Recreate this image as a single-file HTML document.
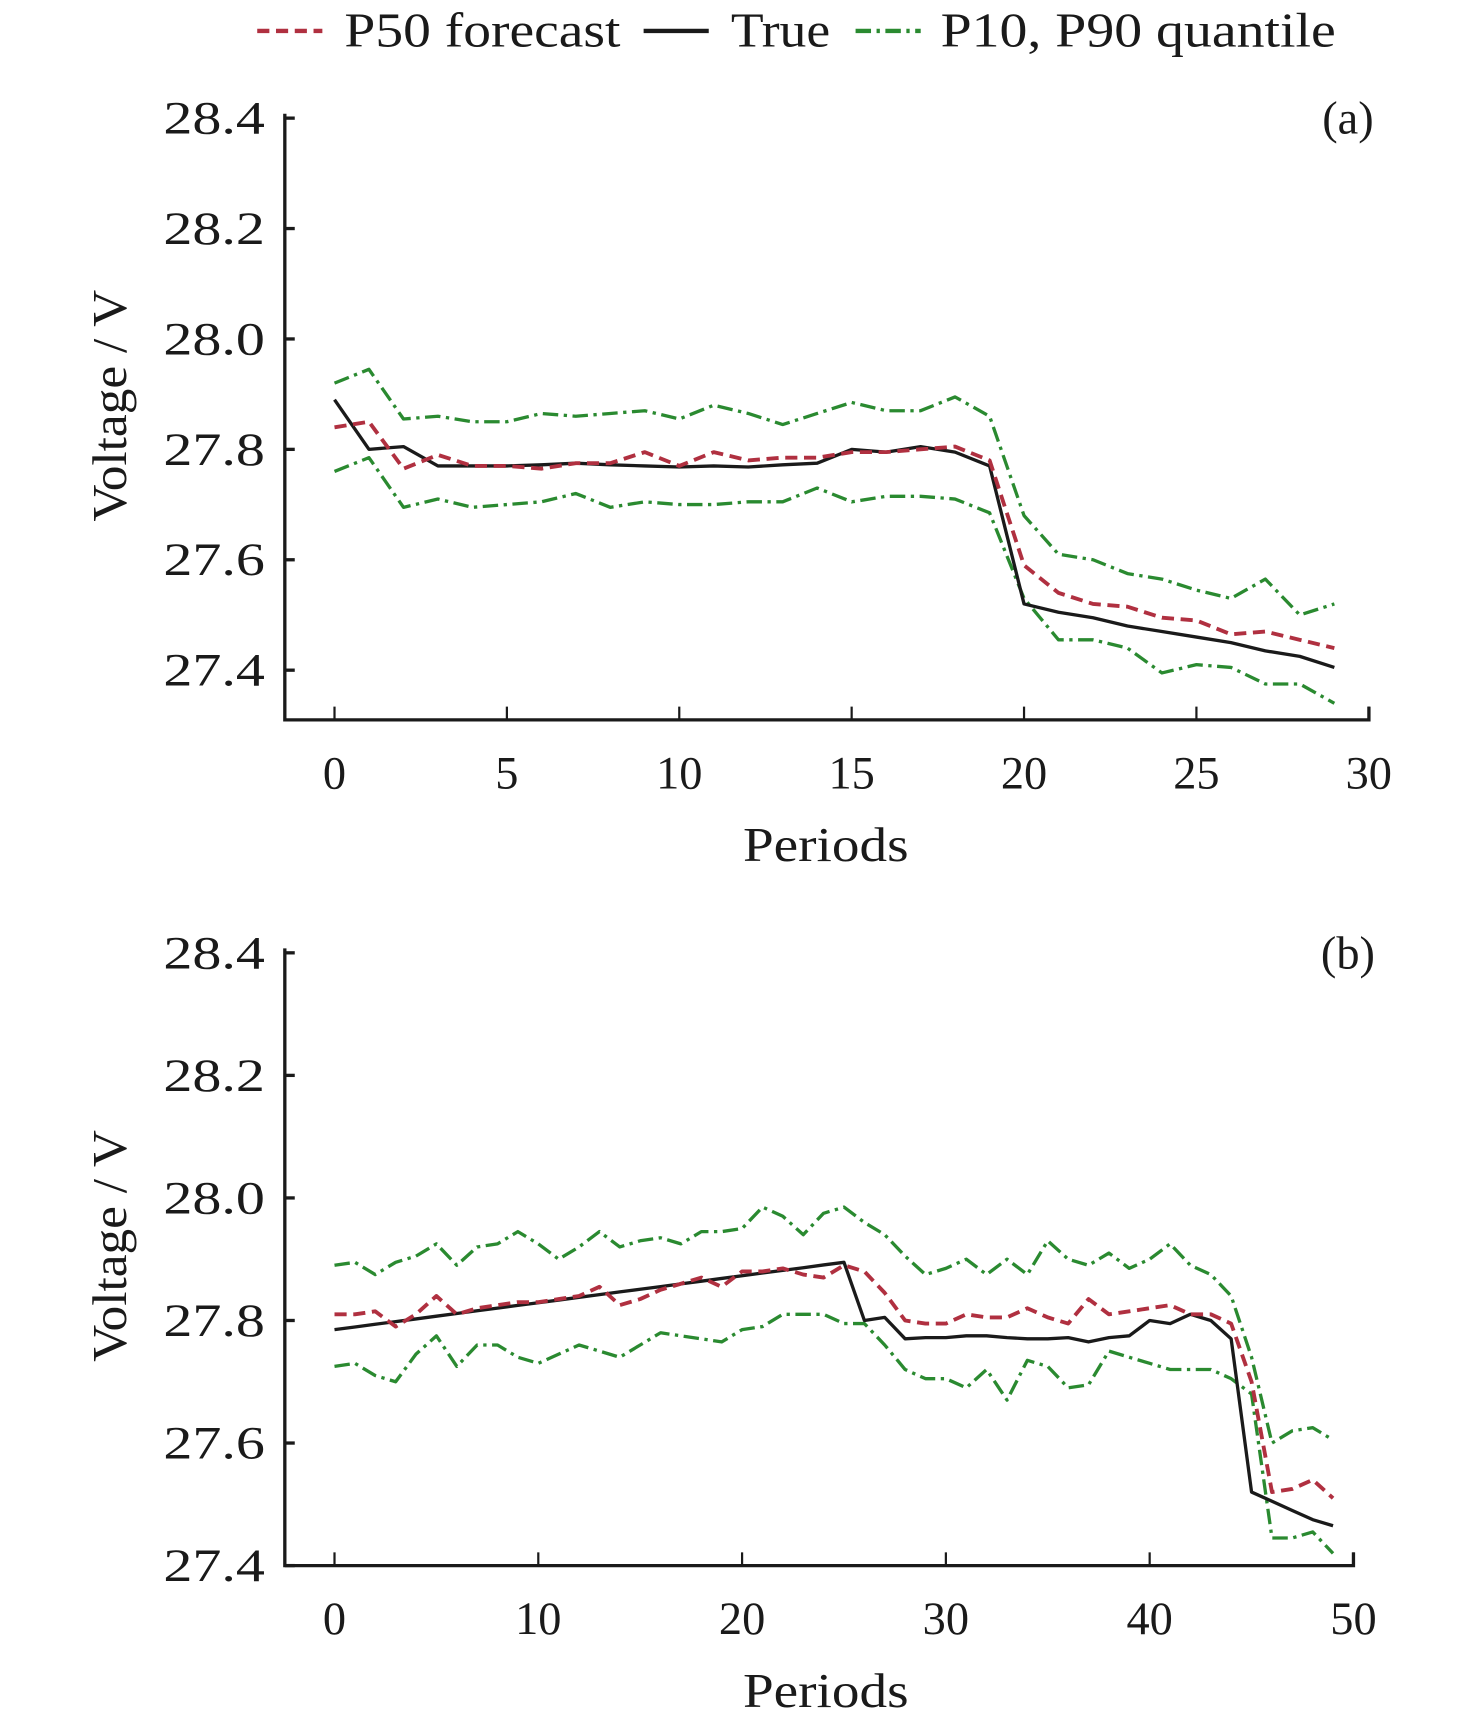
<!DOCTYPE html>
<html><head><meta charset="utf-8"><style>
html,body{margin:0;padding:0;background:#fff;}
svg{display:block;}
text{font-family:"Liberation Serif",serif;fill:#1a1a1a;}
</style></head><body>
<svg id="s" width="1476" height="1729" viewBox="0 0 1337 1566" preserveAspectRatio="none" xmlns="http://www.w3.org/2000/svg">
<g font-size="44">
<line x1="233" y1="28" x2="292" y2="28" stroke="#b03040" stroke-width="4" stroke-dasharray="11,6"/>
<text x="312" y="42" textLength="250" lengthAdjust="spacingAndGlyphs">P50 forecast</text>
<line x1="583" y1="28" x2="642" y2="28" stroke="#1a1a1a" stroke-width="4"/>
<text x="662" y="42" textLength="90" lengthAdjust="spacingAndGlyphs">True</text>
<line x1="775" y1="28" x2="834" y2="28" stroke="#2a8a30" stroke-width="4" stroke-dasharray="14,5,3,5"/>
<text x="852" y="42" textLength="358" lengthAdjust="spacingAndGlyphs">P10, P90 quantile</text>
</g>
<g id="plots"></g>
</svg>
<script>
var NS="http://www.w3.org/2000/svg";
var g=document.getElementById("plots");
function el(t,a,txt){var e=document.createElementNS(NS,t);for(var k in a)e.setAttribute(k,a[k]);if(txt!==undefined)e.textContent=txt;g.appendChild(e);return e;}
function panel(o){
 var X=function(i){return o.x0+i*o.dx;}, Y=function(v){return o.ytop+(28.4-v)*o.dy;};
 el("path",{d:"M"+o.ax+" "+(o.ytop-4)+"V"+o.ybot+"H"+o.xend+"V"+(o.ybot-12),fill:"none",stroke:"#1a1a1a","stroke-width":3});
 [28.4,28.2,28.0,27.8,27.6,27.4].forEach(function(v){var y=Y(v);el("line",{x1:o.ax,y1:y,x2:o.ax+9,y2:y,stroke:"#1a1a1a","stroke-width":3});
  el("text",{x:o.ax-18,y:y+14,"font-size":42,"text-anchor":"end",textLength:92,lengthAdjust:"spacingAndGlyphs"},v.toFixed(1));});
 o.xt.forEach(function(t){var x=X(t);el("line",{x1:x,y1:o.ybot,x2:x,y2:o.ybot-12,stroke:"#1a1a1a","stroke-width":2});
  el("text",{x:x,y:o.ybot+62,"font-size":42,"text-anchor":"middle"},String(t));});
 el("text",{x:748,y:o.ybot+128,"font-size":44,"text-anchor":"middle",textLength:150,lengthAdjust:"spacingAndGlyphs"},"Periods");
 var cy=(o.ytop+o.ybot)/2;
 el("text",{x:0,y:0,"font-size":44,"text-anchor":"middle",transform:"translate(114,"+(cy-12)+") rotate(-90)",textLength:210,lengthAdjust:"spacingAndGlyphs"},"Voltage / V");
 el("text",{x:o.lblx,y:o.ytop+14,"font-size":42,"text-anchor":"middle"},o.lbl);
 function line(d,st,w,da){var p="";d.forEach(function(v,i){p+=(i?"L":"M")+X(i).toFixed(1)+" "+Y(v).toFixed(1);});
  var a={d:p,fill:"none",stroke:st,"stroke-width":w,"stroke-linejoin":"round"};if(da)a["stroke-dasharray"]=da;el("path",a);}
 line(o.p90,"#2a8a30",3,"14,5,3,5");line(o.p10,"#2a8a30",3,"14,5,3,5");
 line(o.tr,"#1a1a1a",3);line(o.p50,"#b03040",3.5,"11,6");
}
panel({ax:258,ytop:107,ybot:652,xend:1240,x0:303,dx:31.23,dy:500,xt:[0,5,10,15,20,25,30],lbl:"(a)",lblx:1221,
tr:[27.89,27.80,27.805,27.77,27.77,27.77,27.772,27.775,27.772,27.77,27.768,27.77,27.768,27.772,27.775,27.80,27.795,27.805,27.795,27.77,27.52,27.505,27.495,27.48,27.47,27.46,27.45,27.435,27.425,27.405],
p50:[27.84,27.85,27.765,27.79,27.77,27.77,27.765,27.775,27.775,27.795,27.77,27.795,27.78,27.785,27.785,27.795,27.795,27.8,27.805,27.78,27.59,27.54,27.52,27.515,27.495,27.49,27.465,27.47,27.455,27.44],
p90:[27.92,27.945,27.855,27.86,27.85,27.85,27.865,27.86,27.865,27.87,27.855,27.88,27.865,27.845,27.865,27.885,27.87,27.87,27.895,27.86,27.68,27.61,27.60,27.575,27.565,27.545,27.53,27.565,27.5,27.52],
p10:[27.76,27.785,27.695,27.71,27.695,27.70,27.705,27.72,27.695,27.705,27.70,27.70,27.705,27.705,27.73,27.705,27.715,27.715,27.71,27.685,27.53,27.455,27.455,27.44,27.395,27.41,27.405,27.375,27.375,27.34]});
var trb=[];for(var i=0;i<=25;i++)trb.push(27.785+i*0.0044);
trb=trb.concat([27.80,27.805,27.77,27.772,27.772,27.775,27.775,27.772,27.77,27.77,27.772,27.765,27.772,27.775,27.80,27.795,27.81,27.80,27.77,27.52,27.505,27.49,27.475,27.465]);
panel({ax:258,ytop:863,ybot:1418,xend:1226,x0:303,dx:18.46,dy:555,xt:[0,10,20,30,40,50],lbl:"(b)",lblx:1221,
tr:trb,
p50:[27.81,27.81,27.815,27.79,27.81,27.84,27.81,27.82,27.825,27.83,27.83,27.835,27.84,27.855,27.825,27.835,27.85,27.86,27.87,27.855,27.88,27.88,27.885,27.875,27.87,27.89,27.88,27.845,27.80,27.795,27.795,27.81,27.805,27.805,27.82,27.805,27.795,27.835,27.81,27.815,27.82,27.825,27.81,27.81,27.795,27.70,27.52,27.525,27.54,27.51],
p90:[27.89,27.895,27.875,27.895,27.905,27.925,27.89,27.92,27.925,27.945,27.925,27.9,27.92,27.945,27.92,27.93,27.935,27.925,27.945,27.945,27.95,27.985,27.97,27.94,27.975,27.985,27.96,27.94,27.905,27.875,27.885,27.9,27.875,27.9,27.875,27.93,27.9,27.89,27.91,27.885,27.9,27.925,27.89,27.875,27.84,27.74,27.60,27.62,27.625,27.605],
p10:[27.725,27.73,27.71,27.70,27.745,27.775,27.725,27.76,27.76,27.74,27.73,27.745,27.76,27.75,27.74,27.76,27.78,27.775,27.77,27.765,27.785,27.79,27.81,27.81,27.81,27.795,27.795,27.76,27.72,27.705,27.705,27.69,27.72,27.67,27.735,27.725,27.69,27.695,27.75,27.74,27.73,27.72,27.72,27.72,27.705,27.68,27.445,27.445,27.455,27.42]});
</script>
</body></html>
